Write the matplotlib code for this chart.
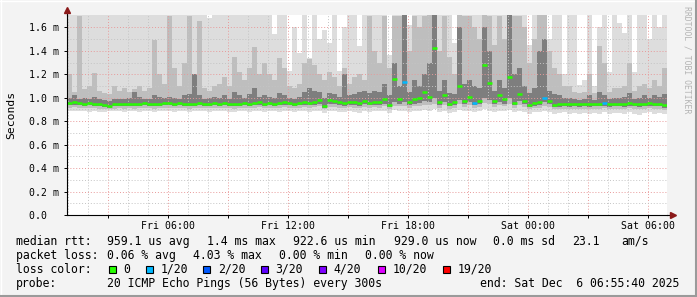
import numpy as np
import matplotlib
matplotlib.use("Agg")
import matplotlib.pyplot as plt
import matplotlib.dates as mdates
from matplotlib.patches import Rectangle
from matplotlib.lines import Line2D

# ---- data (ms), one value per 15 min bin, Fri 00:55:40 -> Sat 06:55:40 ----
t_start = np.datetime64("2025-12-05T00:55:40")
step_min = 15

rtt_median = [
    0.955, 0.960, 0.955, 0.950, 0.955, 0.950, 0.945, 0.935, 0.930, 0.945,
    0.950, 0.945, 0.950, 0.945, 0.950, 0.955, 0.950, 0.945, 0.950, 0.955,
    0.955, 0.950, 0.955, 0.950, 0.945, 0.950, 0.955, 0.950, 0.950, 0.955,
    0.950, 0.955, 0.950, 0.945, 0.950, 0.955, 0.950, 0.955, 0.960, 0.950,
    0.955, 0.950, 0.955, 0.960, 0.955, 0.950, 0.955, 0.960, 0.955, 0.960,
    0.983, 0.930, 0.980, 0.975, 0.960, 0.955, 0.965, 0.960, 0.955, 0.970,
    0.955, 0.960, 0.960, 0.990, 0.940, 1.160, 0.990, 1.130, 0.960, 0.985,
    1.000, 1.050, 1.010, 1.420, 0.965, 1.020, 0.945, 0.960, 1.100, 0.970,
    1.010, 0.955, 0.975, 1.280, 1.125, 0.975, 1.020, 0.990, 1.180, 0.955,
    1.030, 0.975, 0.940, 0.955, 0.960, 1.000, 0.975, 0.940, 0.945, 0.950,
    0.945, 0.950, 0.945, 0.950, 0.945, 0.950, 0.950, 0.955, 0.945, 0.950,
    0.950, 0.945, 0.955, 0.950, 0.945, 0.950, 0.955, 0.950, 0.950, 0.935,
]

# lost pings out of 20 per bin
loss = [0] * 120
for i in (67, 81, 95, 107):
    loss[i] = 1

rtt_max = [
    1.75, 1.75, 1.75, 1.75, 1.75, 1.75, 1.75, 1.75, 1.75, 1.75,
    1.75, 1.75, 1.75, 1.75, 1.75, 1.75, 1.75, 1.75, 1.75, 1.75,
    1.75, 1.75, 1.75, 1.75, 1.75, 1.75, 1.75, 1.75, 1.68, 1.75,
    1.75, 1.75, 1.75, 1.75, 1.75, 1.75, 1.75, 1.75, 1.75, 1.75,
    1.75, 1.54, 1.75, 1.75, 1.23, 1.60, 1.38, 1.75, 1.34, 1.75,
    1.50, 1.58, 1.47, 1.75, 1.23, 1.60, 1.75, 1.75, 1.44, 1.75,
    1.75, 1.75, 1.75, 1.75, 1.36, 1.75, 1.75, 1.75, 1.62, 1.75,
    1.75, 1.75, 1.75, 1.75, 1.75, 1.75, 1.75, 1.47, 1.75, 1.75,
    1.75, 1.75, 1.75, 1.75, 1.75, 1.75, 1.75, 1.75, 1.75, 1.75,
    1.75, 1.75, 1.45, 1.75, 1.75, 1.75, 1.50, 1.75, 1.75, 1.20,
    1.75, 1.75, 1.11, 1.15, 1.75, 1.10, 1.60, 1.75, 1.22, 1.75,
    1.64, 1.55, 1.75, 1.22, 1.75, 1.75, 1.50, 1.75, 1.60, 1.75,
]

rtt_p90 = [
    1.20, 1.05, 1.70, 1.07, 1.10, 1.21, 1.06, 1.04, 1.03, 1.10,
    1.06, 1.08, 1.05, 1.07, 1.10, 1.06, 1.08, 1.49, 1.20, 1.12,
    1.70, 1.25, 1.10, 1.30, 1.70, 1.20, 1.65, 1.08, 1.06, 1.10,
    1.12, 1.18, 1.10, 1.35, 1.22, 1.15, 1.25, 1.43, 1.20, 1.30,
    1.20, 1.15, 1.34, 1.25, 1.10, 1.08, 1.12, 1.30, 1.33, 1.28,
    1.20, 1.15, 1.22, 1.18, 1.10, 1.25, 1.12, 1.18, 1.20, 1.15,
    1.70, 1.40, 1.30, 1.70, 1.25, 1.70, 1.70, 1.75, 1.40, 1.70,
    1.60, 1.70, 1.75, 1.75, 1.40, 1.70, 1.35, 1.20, 1.75, 1.70,
    1.70, 1.60, 1.50, 1.75, 1.70, 1.45, 1.70, 1.50, 1.75, 1.70,
    1.70, 1.60, 1.30, 1.50, 1.75, 1.75, 1.40, 1.25, 1.20, 1.10,
    1.10, 1.05, 1.04, 1.05, 1.20, 1.04, 1.44, 1.30, 1.05, 1.08,
    1.08, 1.10, 1.30, 1.06, 1.10, 1.12, 1.08, 1.15, 1.10, 1.25,
]

rtt_p75 = [
    1.00, 1.02, 0.99, 1.00, 0.99, 1.01, 0.99, 0.98, 0.97, 0.99,
    0.99, 0.99, 1.00, 1.05, 1.01, 0.99, 0.99, 1.02, 1.01, 1.00,
    1.01, 1.00, 0.99, 1.02, 1.03, 1.20, 1.02, 0.99, 1.00, 1.01,
    1.00, 1.02, 0.99, 1.05, 1.02, 1.00, 1.03, 1.08, 1.01, 1.02,
    1.01, 1.00, 1.04, 1.02, 1.00, 0.99, 1.01, 1.05, 1.08, 1.06,
    1.05, 1.00, 1.04, 1.03, 1.01, 1.20, 1.02, 1.03, 1.05, 1.06,
    1.04, 1.06, 1.05, 1.12, 1.02, 1.30, 1.10, 1.75, 1.05, 1.15,
    1.10, 1.20, 1.30, 1.75, 1.06, 1.15, 1.04, 1.03, 1.60, 1.12,
    1.15, 1.10, 1.08, 1.60, 1.40, 1.06, 1.15, 1.08, 1.75, 1.20,
    1.25, 1.10, 1.04, 1.08, 1.40, 1.50, 1.06, 1.03, 1.02, 1.00,
    1.00, 0.99, 0.98, 0.99, 1.02, 0.98, 1.05, 1.02, 0.99, 1.00,
    1.00, 1.01, 1.04, 0.99, 1.00, 1.02, 1.00, 1.02, 1.01, 1.03,
]

rtt_p25 = [
    0.935, 0.940, 0.935, 0.930, 0.935, 0.930, 0.925, 0.920, 0.915, 0.925,
    0.930, 0.925, 0.930, 0.925, 0.930, 0.935, 0.930, 0.925, 0.930, 0.935,
    0.935, 0.930, 0.935, 0.930, 0.925, 0.930, 0.935, 0.930, 0.930, 0.935,
    0.930, 0.935, 0.930, 0.925, 0.930, 0.935, 0.930, 0.935, 0.940, 0.930,
    0.935, 0.930, 0.935, 0.940, 0.935, 0.930, 0.935, 0.940, 0.935, 0.940,
    0.950, 0.915, 0.945, 0.945, 0.935, 0.930, 0.940, 0.935, 0.930, 0.945,
    0.935, 0.940, 0.935, 0.950, 0.920, 0.960, 0.950, 0.960, 0.935, 0.950,
    0.955, 0.970, 0.960, 1.000, 0.940, 0.960, 0.925, 0.935, 0.980, 0.945,
    0.960, 0.935, 0.945, 1.000, 0.980, 0.945, 0.960, 0.950, 1.000, 0.935,
    0.970, 0.945, 0.920, 0.930, 0.935, 0.960, 0.945, 0.920, 0.920, 0.925,
    0.920, 0.925, 0.920, 0.925, 0.920, 0.925, 0.925, 0.930, 0.920, 0.925,
    0.925, 0.920, 0.930, 0.925, 0.920, 0.925, 0.930, 0.925, 0.925, 0.915,
]

rtt_p10 = [
    0.915, 0.920, 0.915, 0.910, 0.915, 0.910, 0.905, 0.900, 0.900, 0.905,
    0.910, 0.905, 0.910, 0.905, 0.910, 0.915, 0.910, 0.905, 0.910, 0.915,
    0.915, 0.910, 0.915, 0.910, 0.905, 0.910, 0.915, 0.910, 0.910, 0.915,
    0.910, 0.915, 0.910, 0.905, 0.910, 0.915, 0.910, 0.915, 0.920, 0.910,
    0.915, 0.910, 0.915, 0.920, 0.915, 0.910, 0.915, 0.920, 0.915, 0.920,
    0.925, 0.900, 0.920, 0.920, 0.915, 0.910, 0.920, 0.915, 0.910, 0.920,
    0.915, 0.920, 0.915, 0.925, 0.905, 0.930, 0.925, 0.930, 0.915, 0.925,
    0.930, 0.940, 0.935, 0.950, 0.915, 0.935, 0.905, 0.915, 0.945, 0.920,
    0.935, 0.915, 0.920, 0.955, 0.945, 0.920, 0.935, 0.925, 0.950, 0.915,
    0.940, 0.920, 0.900, 0.910, 0.915, 0.930, 0.920, 0.900, 0.900, 0.905,
    0.900, 0.905, 0.900, 0.905, 0.900, 0.905, 0.905, 0.910, 0.900, 0.905,
    0.905, 0.900, 0.910, 0.905, 0.900, 0.905, 0.910, 0.905, 0.905, 0.895,
]

rtt_min = [
    0.890, 0.885, 0.890, 0.885, 0.880, 0.890, 0.875, 0.880, 0.885, 0.890,
    0.885, 0.880, 0.890, 0.885, 0.880, 0.890, 0.885, 0.880, 0.885, 0.890,
    0.890, 0.880, 0.885, 0.890, 0.875, 0.885, 0.890, 0.885, 0.880, 0.890,
    0.885, 0.890, 0.880, 0.875, 0.885, 0.890, 0.880, 0.885, 0.890, 0.880,
    0.890, 0.885, 0.880, 0.890, 0.885, 0.875, 0.885, 0.890, 0.880, 0.885,
    0.890, 0.870, 0.885, 0.890, 0.880, 0.875, 0.885, 0.880, 0.870, 0.885,
    0.880, 0.890, 0.885, 0.890, 0.870, 0.895, 0.885, 0.890, 0.880, 0.885,
    0.890, 0.895, 0.890, 0.900, 0.880, 0.890, 0.870, 0.880, 0.895, 0.885,
    0.890, 0.880, 0.885, 0.900, 0.890, 0.880, 0.890, 0.885, 0.895, 0.875,
    0.890, 0.880, 0.865, 0.875, 0.880, 0.890, 0.880, 0.865, 0.870, 0.875,
    0.865, 0.870, 0.860, 0.870, 0.865, 0.870, 0.860, 0.875, 0.865, 0.870,
    0.870, 0.860, 0.875, 0.865, 0.855, 0.870, 0.875, 0.865, 0.870, 0.860,
]

y_ticks = [0.0, 0.2, 0.4, 0.6, 0.8, 1.0, 1.2, 1.4, 1.6]
y_tick_labels = ["0.0  ", "0.2 m", "0.4 m", "0.6 m", "0.8 m",
                 "1.0 m", "1.2 m", "1.4 m", "1.6 m"]

loss_levels = [0, 1, 2, 3, 4, 10, 19]
loss_labels = ["0", "1/20", "2/20", "3/20", "4/20", "10/20", "19/20"]
loss_colors = ["#26ff00", "#00b8ff", "#0059ff", "#5e00ff",
               "#7e00ff", "#dd00ff", "#ff0000"]

rtt_stats = ["959.1 us avg", "1.4 ms max", "922.6 us min",
             "929.0 us now", "0.0 ms sd", "23.1", "am/s"]
loss_stats = ["0.06 % avg", "4.03 % max", "0.00 % min", "0.00 % now"]
probe_text = "20 ICMP Echo Pings (56 Bytes) every 300s"
end_text = "end: Sat Dec  6 06:55:40 2025"

W, H = 697, 297
MONO = "DejaVu Sans Mono"


def fx(px):
    return px / W


def fy(py):
    return 1 - py / H


def loss_color(n):
    c = loss_colors[0]
    for lvl, col in zip(loss_levels, loss_colors):
        if n >= lvl:
            c = col
    return c


def main():
    n = len(rtt_median)
    edges = t_start + np.arange(n + 1) * np.timedelta64(step_min, "m")
    xe = mdates.date2num(edges)

    fig = plt.figure(figsize=(W / 100, H / 100), dpi=100, facecolor="#f3f3f3")

    # 3d frame round the canvas
    fig.add_artist(Line2D([0, 1], [fy(0.5), fy(0.5)], color="#ffffff", lw=1))
    fig.add_artist(Line2D([fx(0.5), fx(0.5)], [0, 1], color="#ffffff", lw=1))
    fig.add_artist(Line2D([0, 1], [fy(296), fy(296)], color="#9a9a9a", lw=1.5))
    fig.add_artist(Line2D([fx(696), fx(696)], [0, 1], color="#9a9a9a", lw=1.5))

    ax = fig.add_axes([fx(67), fy(215), 600 / W, 200 / H])
    ax.set_facecolor("white")

    def ext(v):
        return np.append(v, v[-1])

    # smoke, outer to inner
    bands = [(rtt_min, rtt_max, "#dddddd"),
             (rtt_p10, rtt_p90, "#bebebe"),
             (rtt_p25, rtt_p75, "#7e7e7e")]
    for lo, hi, col in bands:
        ax.fill_between(xe, ext(lo), ext(hi), step="post", color=col,
                        linewidth=0, zorder=1)

    # median per bin, coloured by loss
    cols = [loss_color(v) for v in loss]
    ax.hlines(rtt_median, xe[:-1], xe[1:], colors=cols, lw=1.8, zorder=4)

    ax.set_xlim(xe[0], xe[-1])
    ax.set_ylim(0, 1.705)

    ax.xaxis_date()
    ax.xaxis.set_major_locator(mdates.HourLocator(byhour=range(0, 24, 3)))
    ax.xaxis.set_minor_locator(mdates.HourLocator())

    def fmt(x, pos):
        d = mdates.num2date(x)
        return d.strftime("%a %H:%M") if d.hour % 6 == 0 else ""

    ax.xaxis.set_major_formatter(plt.FuncFormatter(fmt))
    ax.set_yticks(y_ticks)
    ax.set_yticklabels(y_tick_labels)
    ax.set_yticks(np.arange(0.1, 1.7, 0.2), minor=True)

    ax.set_axisbelow(False)
    ax.grid(which="major", color="#e89a9a", ls=(0, (1, 2)), lw=0.7)
    ax.grid(which="minor", color="#c4c4c4", ls=(0, (1, 2)), lw=0.7)

    for s in ("top", "right"):
        ax.spines[s].set_visible(False)
    for s in ("left", "bottom"):
        ax.spines[s].set_linewidth(0.8)
        ax.spines[s].set_zorder(5)

    ax.tick_params(which="major", length=2, width=0.7, pad=2.5,
                   labelsize=7.1, labelfontfamily=MONO)
    ax.tick_params(axis="y", which="major", pad=3.5)
    ax.tick_params(which="minor", length=0)

    # axis arrows
    ax.plot([1.0, 1.008], [0, 0], color="black", lw=0.8,
            transform=ax.transAxes, clip_on=False, zorder=5)
    ax.plot([0, 0], [1.0, 1.02], color="black", lw=0.8,
            transform=ax.transAxes, clip_on=False, zorder=5)
    ax.plot([1.0105], [0.0], marker=">", ms=4.5, color="#8b1a1a", mec="#8b1a1a",
            transform=ax.transAxes, clip_on=False, zorder=6)
    ax.plot([0.0], [1.025], marker="^", ms=4.5, color="#8b1a1a", mec="#8b1a1a",
            transform=ax.transAxes, clip_on=False, zorder=6)

    fig.text(fx(11), fy(115), "Seconds", rotation=90, ha="center", va="center",
             family=MONO, size=8.2)
    fig.text(fx(687), fy(60), "RRDTOOL / TOBI OETIKER", rotation=270,
             ha="center", va="center", family=MONO, size=5.9, color="#b4b4b4")

    # legend block
    fs = 8.3

    def put(px, py, s, ha="left"):
        fig.text(fx(px), fy(py), s, family=MONO, size=fs, ha=ha, va="baseline")

    put(16, 244.7, "median rtt:")
    for xp, s in zip([107.3, 207.3, 292.7, 393.7, 493, 572.3, 621], rtt_stats):
        put(xp, 244.7, s)

    put(16, 258.7, "packet loss:")
    for xp, s in zip([107.3, 193.3, 279.3, 365.3], loss_stats):
        put(xp, 258.7, s)

    put(16, 272.7, "loss color:")
    box_x = [108.7, 145.7, 203.3, 261, 319.3, 377.7, 442.7]
    for xp, lab, col in zip(box_x, loss_labels, loss_colors):
        fig.add_artist(Rectangle((fx(xp), fy(273)), 7 / W, 7.5 / H,
                                 facecolor=col, edgecolor="black", lw=0.8))
        put(xp + 14.6, 272.7, lab)

    put(16, 286.7, "probe:")
    put(107.3, 286.7, probe_text)
    put(679.7, 286.7, end_text, ha="right")

    fig.savefig("out.png", dpi=100, facecolor=fig.get_facecolor())


if __name__ == "__main__":
    main()
